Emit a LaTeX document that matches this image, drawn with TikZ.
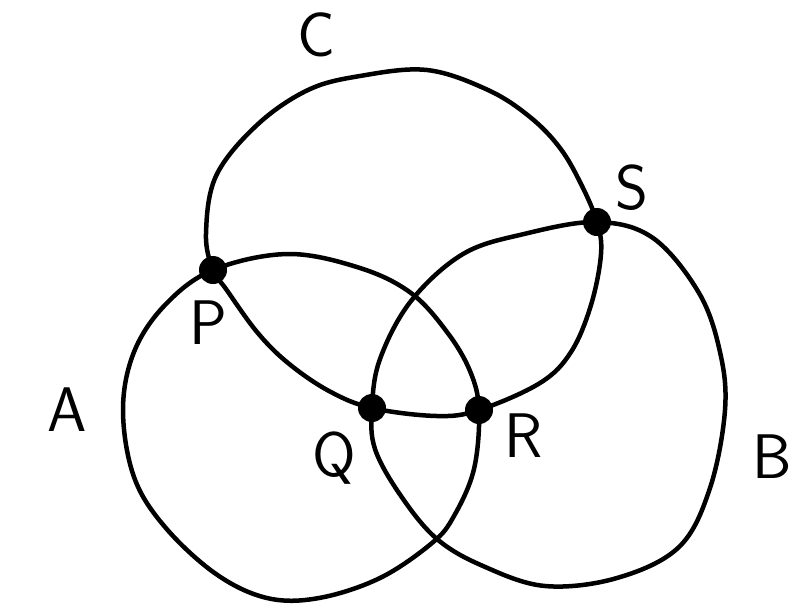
\documentclass[tikz,border=0pt]{standalone}
\usepackage{tikz}

\begin{document}
\begin{tikzpicture}[
  x=1pt, y=-1pt,
  loop/.style={line width=4.5pt, line join=round},
  dot/.style={circle, fill=black, inner sep=0pt, minimum size=28pt},
  lbl/.style={font=\fontsize{63}{63}\selectfont\sffamily}
]
\useasboundingbox (0,0) rectangle (803,614);
\coordinate (P) at (213,270);
\coordinate (Q) at (372,408);
\coordinate (R) at (479,410);
\coordinate (S) at (597,222);
% curve A
\draw[loop] plot[smooth cycle, tension=0.6] coordinates {
  (P) (288,254) (360,268) (411,293) (447,332) (470,371) (R) (474,469)
  (454,516) (432,543) (380,578) (319,598) (267,598) (216,574) (165,527)
  (134,477) (123,410) (134,352) (165,305)};
% curve B
\draw[loop] plot[smooth cycle, tension=0.6] coordinates {
  (S) (653,238) (699,293) (720,352) (725,410) (710,488) (679,547)
  (617,578) (545,586) (483,566) (437,539) (401,496) (375,449) (Q)
  (380,359) (411,301) (463,254) (524,234)};
% curve C
\draw[loop] plot[smooth cycle, tension=0.6] coordinates {
  (P) (206,234) (216,176) (257,125) (308,90) (360,76) (427,70) (488,90)
  (530,117) (560,148) (581,184) (S) (601,254) (591,305) (571,352)
  (540,383) (R) (437,416) (Q) (329,391) (288,363) (257,332) (226,289)};
% points
\foreach \p in {P,Q,R,S}
  \node[dot] (dot\p) at (\p) {};
% labels
\node[lbl] (labC) at (316,35) {C};
\node[lbl] (labS) at (632,188) {S};
\node[lbl] (labP) at (208,323) {P};
\node[lbl] (labQ) at (334,458) {Q};
\node[lbl] (labR) at (524,436) {R};
\node[lbl] (labA) at (67,410) {A};
\node[lbl] (labB) at (772,457) {B};
\end{tikzpicture}
\end{document}
